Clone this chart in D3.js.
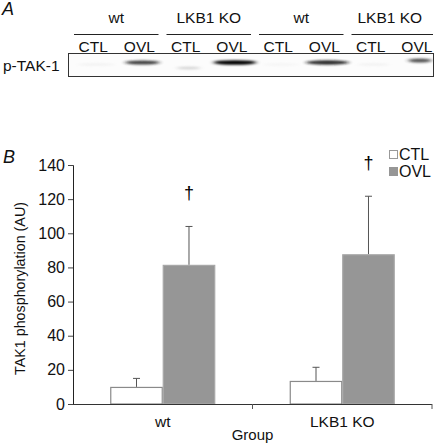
<!DOCTYPE html>
<html><head><meta charset="utf-8">
<script src="https://cdn.jsdelivr.net/npm/d3@7"></script>
<style>body{margin:0;background:#fff}svg{display:block}text{font-family:"Liberation Sans",Arial,sans-serif;fill:#111}</style>
</head><body><svg id="c" width="437" height="443"></svg>
<script>
// ---- Panel A (blot) data ----
const blotGroups = ["wt", "LKB1 KO", "wt", "LKB1 KO"];
const blotLanes = ["CTL", "OVL", "CTL", "OVL", "CTL", "OVL", "CTL", "OVL"];
const bandIntensity = [0.15, 0.85, 0.35, 1.0, 0.1, 0.9, 0.15, 0.8];
const bandWidth = [0.85, 0.8, 0.55, 1.0, 0.85, 1.0, 0.75, 0.55];
// ---- Panel B (bar chart) data ----
const categories = ["wt", "LKB1 KO"];
const seriesNames = ["CTL", "OVL"];
const ctlValues = [10, 13.5];
const ctlErrors = [5, 8];
const ovlValues = [81.5, 87.7];
const ovlErrors = [22.5, 34];
const yTicks = [0, 20, 40, 60, 80, 100, 120, 140];

const svg = d3.select("#c");

// ===== Panel A =====
svg.append("text").attr("x", 2).attr("y", 15).attr("font-size", 18).attr("font-style", "italic").text("A");
const lane = d3.scaleBand().domain(d3.range(blotLanes.length)).range([70, 440]);
const grp = d3.scaleBand().domain(d3.range(blotGroups.length)).range([70, 440]);
svg.selectAll(".gl").data(blotGroups).join("text")
  .attr("x", (d, i) => grp(i) + grp.bandwidth() / 2 + (i === 3 ? -4 : 0)).attr("y", 23)
  .attr("text-anchor", "middle").attr("font-size", 15.5).text(d => d);
svg.selectAll(".gline").data(blotGroups).join("line")
  .attr("x1", (d, i) => grp(i) + 4).attr("x2", (d, i) => Math.min(grp(i) + grp.bandwidth() - 4, 433))
  .attr("y1", 34.5).attr("y2", 34.5).attr("stroke", "#222").attr("stroke-width", 1);
svg.selectAll(".ll").data(blotLanes).join("text")
  .attr("x", (d, i) => lane(i) + lane.bandwidth() / 2).attr("y", 52)
  .attr("text-anchor", "middle").attr("font-size", 15.5).text(d => d);
svg.append("text").attr("x", 3).attr("y", 71).attr("font-size", 15.5).text("p-TAK-1");
const defs = svg.append("defs");
defs.append("filter").attr("id", "blur").attr("x", "-50%").attr("y", "-300%").attr("width", "200%").attr("height", "700%")
  .append("feGaussianBlur").attr("stdDeviation", "2.5 0.8");
defs.append("clipPath").attr("id", "blotclip").append("rect").attr("x", 69).attr("y", 54).attr("width", 364).attr("height", 22);
svg.append("rect").attr("x", 68.5).attr("y", 53.5).attr("width", 365).attr("height", 23)
  .attr("fill", "#fcfcfc").attr("stroke", "#333").attr("stroke-width", 1);
svg.append("g").attr("clip-path", "url(#blotclip)").selectAll(".band").data(bandIntensity).join("ellipse")
  .attr("cx", (d, i) => lane(i) + lane.bandwidth() / 2 + 3)
  .attr("cy", (d, i) => (i === 7 ? 60.5 : i === 2 ? 68 : i % 2 ? 62.5 : 64.5))
  .attr("rx", (d, i) => lane.bandwidth() * 0.46 * bandWidth[i])
  .attr("ry", d => 0.8 + d * 1.5)
  .attr("fill", d => d3.interpolateGreys(0.1 + d * 0.9))
  .attr("opacity", d => 0.3 + d * 0.7)
  .attr("filter", "url(#blur)");

// ===== Panel B =====
svg.append("text").attr("x", 3).attr("y", 163).attr("font-size", 18).attr("font-style", "italic").text("B");
const m = {l: 73, r: 432, t: 165, b: 404};
const y = d3.scaleLinear().domain([0, 140]).range([m.b, m.t]);
const x0 = d3.scaleBand().domain(categories).range([m.l, m.r]).paddingInner(0).paddingOuter(0);
const x1 = d3.scaleBand().domain(seriesNames).range([0, x0.bandwidth()]).paddingOuter(0.71).paddingInner(0);
const data = categories.map((c, i) => [
  {cat: c, s: "CTL", v: ctlValues[i], e: ctlErrors[i]},
  {cat: c, s: "OVL", v: ovlValues[i], e: ovlErrors[i]}
]).flat();
const fill = {CTL: "#ffffff", OVL: "#969696"};
const stroke = {CTL: "#8a8a8a", OVL: "#a8a8a8"};

const ex = d => x0(d.cat) + x1(d.s) + x1.bandwidth() / 2;
svg.selectAll(".eb").data(data).join("line")
  .attr("x1", ex).attr("x2", ex).attr("y1", d => y(d.v)).attr("y2", d => y(d.v + d.e))
  .attr("stroke", "#555").attr("stroke-width", 1);
svg.selectAll(".ec").data(data).join("line")
  .attr("x1", d => ex(d) - 3.5).attr("x2", d => ex(d) + 3.5).attr("y1", d => y(d.v + d.e)).attr("y2", d => y(d.v + d.e))
  .attr("stroke", "#555").attr("stroke-width", 1);
svg.selectAll(".bar").data(data).join("rect")
  .attr("x", d => x0(d.cat) + x1(d.s) + 0.5).attr("y", d => y(d.v) + 0.5)
  .attr("width", x1.bandwidth() - 1).attr("height", d => y(0) - y(d.v) - 0.5)
  .attr("fill", d => fill[d.s]).attr("stroke", d => stroke[d.s]).attr("stroke-width", 1.2);

// daggers
svg.selectAll(".dg").data(data.filter(d => d.s === "OVL")).join("text")
  .attr("x", ex).attr("y", d => y(d.v + d.e) - 27).attr("text-anchor", "middle")
  .attr("font-size", 18).attr("font-family", "DejaVu Sans").style("fill", "#000").text("\u2020");

// y axis
const ya = svg.append("g").attr("transform", `translate(${m.l},0)`)
  .call(d3.axisLeft(y).tickValues(yTicks).tickSize(5).tickPadding(3));
ya.select(".domain").attr("stroke", "#222");
ya.selectAll(".tick line").attr("stroke", "#444");
ya.selectAll("text").attr("font-size", 16).attr("font-family", "Liberation Sans, Arial").attr("fill", "#111");

// x axis
const xa = svg.append("g").attr("transform", `translate(0,${m.b})`);
xa.append("line").attr("x1", m.l).attr("x2", m.r).attr("y1", 0.5).attr("y2", 0.5).attr("stroke", "#333");
xa.selectAll(".xt").data(categories).join("line")
  .attr("x1", d => x0(d) + x0.bandwidth()).attr("x2", d => x0(d) + x0.bandwidth())
  .attr("y1", 0).attr("y2", 5).attr("stroke", "#555");
xa.selectAll(".xl").data(categories).join("text")
  .attr("x", d => x0(d) + x0.bandwidth() / 2).attr("y", 23).attr("text-anchor", "middle")
  .attr("font-size", 15.5).text(d => d);
svg.append("text").attr("x", (m.l + m.r) / 2).attr("y", 440).attr("text-anchor", "middle").attr("font-size", 15).text("Group");
svg.append("text").attr("transform", `translate(25,${(m.t + m.b) / 2 + 4}) rotate(-90)`)
  .attr("text-anchor", "middle").attr("font-size", 14.3).text("TAK1 phosphorylation (AU)");

// legend
const lg = svg.append("g").attr("transform", "translate(389,150)");
seriesNames.forEach((s, i) => {
  lg.append("rect").attr("x", 0.5).attr("y", i * 17 + 0.5).attr("width", 8).attr("height", 8)
    .attr("fill", fill[s]).attr("stroke", s === "CTL" ? "#999" : "#969696");
  lg.append("text").attr("x", 10).attr("y", i * 17 + 10).attr("font-size", 16).text(s);
});
</script></body></html>
